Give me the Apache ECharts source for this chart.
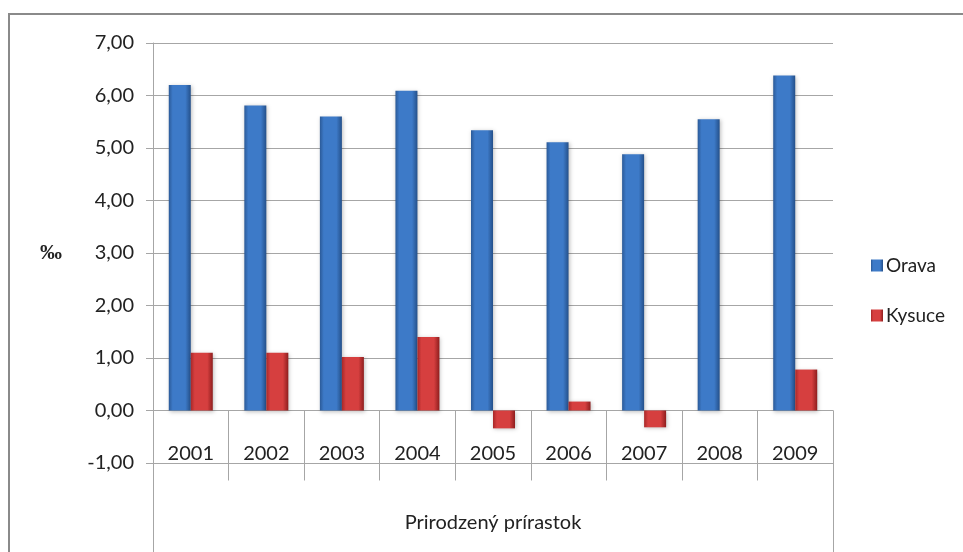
<!DOCTYPE html>
<html><head><meta charset="utf-8">
<script src="https://cdn.jsdelivr.net/npm/echarts@6/dist/echarts.min.js"></script>
<style>
html,body{margin:0;padding:0;background:#fff;overflow:hidden}
#wrap{position:relative;width:963px;height:552px;overflow:hidden}
#frame{position:absolute;left:8px;top:13px;width:1000px;height:1000px;border:2px solid #8a8a8a;box-sizing:border-box}
#c{position:absolute;left:0;top:0;width:963px;height:552px}
</style></head>
<body><div id="wrap"><div id="frame"></div><div id="c"></div></div>
<script>
const years = ['2001','2002','2003','2004','2005','2006','2007','2008','2009'];
const orava = [6.20, 5.81, 5.60, 6.09, 5.34, 5.11, 4.88, 5.55, 6.38];
const kysuce = [1.10, 1.10, 1.02, 1.40, -0.34, 0.17, -0.32, 0.00, 0.78];
const groupLabel = ['Prirodzený prírastok'];
const yTicks = {min: -1, max: 7, interval: 1};

const font = 'Lato, "Open Sans", sans-serif';
const lineCol = '#a6a6a6';
function grad(edge, mid, edge2){
  return new echarts.graphic.LinearGradient(0,0,1,0,[
    {offset:0,color:edge},{offset:0.18,color:mid},{offset:0.75,color:mid},{offset:1,color:edge2}]);
}
const chart = echarts.init(document.getElementById('c'));
chart.setOption({
  animation:false,
  grid:{left:153,right:130,top:43,bottom:89,containLabel:false,outerBoundsMode:'none'},
  legend:{
    orient:'vertical', left:866, top:251, itemGap:31, itemWidth:12, itemHeight:12,
    icon:'rect',
    textStyle:{fontFamily:font,fontSize:19,color:'#222',padding:[0,0,0,-2]},
    data:['Orava','Kysuce']
  },
  xAxis:[{
    type:'category', data:years,
    axisLine:{onZero:true,lineStyle:{color:lineCol,width:1}},
    axisTick:{show:true,length:70,inside:false,alignWithLabel:false,lineStyle:{color:lineCol}},
    axisLabel:{margin:-19,fontFamily:font,fontSize:20,color:'#222'},
    splitLine:{show:false}
  },{
    type:'category', data:groupLabel, position:'bottom',
    axisLine:{onZero:true,lineStyle:{color:lineCol,width:1}},
    axisTick:{show:true,length:142,alignWithLabel:false,lineStyle:{color:lineCol}},
    axisLabel:{margin:50,fontFamily:font,fontSize:20,color:'#222'},
    splitLine:{show:false}
  }],
  yAxis:{
    type:'value', min:yTicks.min, max:yTicks.max, interval:yTicks.interval,
    name:'‰', nameLocation:'middle', nameRotate:0, nameGap:91,
    nameTextStyle:{fontFamily:'"Liberation Serif", serif',fontSize:22,fontWeight:'bold',color:'#222'},
    axisLine:{show:true,lineStyle:{color:lineCol}},
    axisTick:{show:true,length:7,lineStyle:{color:lineCol}},
    axisLabel:{margin:19,fontFamily:font,fontSize:20,color:'#222',
      formatter:v=>v.toFixed(2).replace('.',',')},
    splitLine:{show:true,lineStyle:{color:lineCol,width:1}}
  },
  series:[{
    name:'Orava', type:'bar', data:orava, barWidth:22, barGap:'0%',
    itemStyle:{color:grad('#2b5a98','#3d7ac8','#24508a'),borderWidth:0,
      shadowColor:'rgba(0,0,0,0.25)',shadowBlur:4,shadowOffsetX:1,shadowOffsetY:1}
  },{
    name:'Kysuce', type:'bar', data:kysuce, barWidth:22,
    itemStyle:{color:grad('#a82828','#d63f3f','#8e1e1e'),borderWidth:0,
      shadowColor:'rgba(0,0,0,0.25)',shadowBlur:4,shadowOffsetX:1,shadowOffsetY:1}
  }]
});
</script></body></html>
